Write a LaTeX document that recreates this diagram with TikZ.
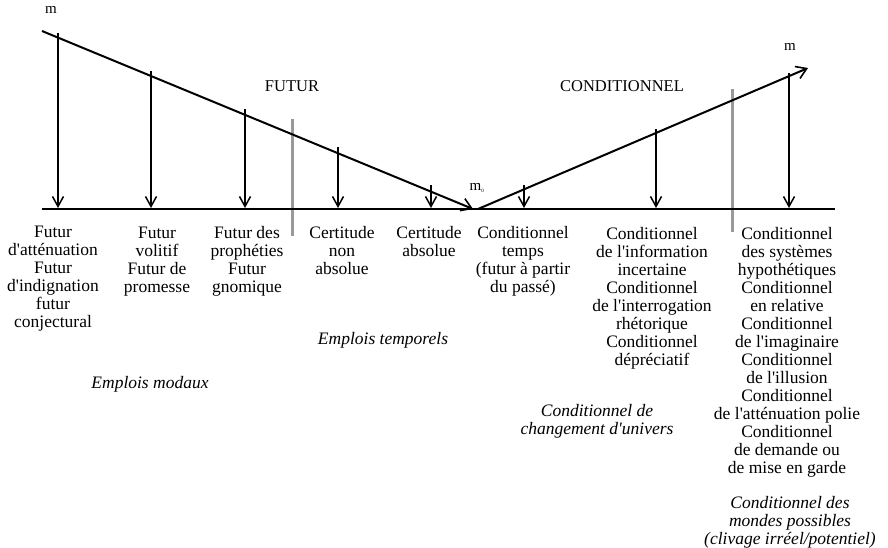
\documentclass[tikz,border=0pt]{standalone}
\usepackage{fontspec}
\setmainfont{Liberation Serif}
\usetikzlibrary{arrows.meta}
\newcommand{\ap}{\textquotesingle}
\begin{document}
\begin{tikzpicture}[x=1pt,y=-1pt,
  lbl/.style={align=center,font=\fontsize{17.5}{18}\selectfont,inner sep=0pt,anchor=north},
  cat/.style={align=center,font=\fontsize{17.5}{18}\selectfont\itshape,inner sep=0pt,anchor=north},
  head/.style={font=\fontsize{16.5}{18}\selectfont,inner sep=0pt},
  mlab/.style={font=\fontsize{15}{16}\selectfont,inner sep=0pt},
  axis/.style={line width=2.6pt},
  diag/.style={line width=2pt},
  drop/.style={line width=1.7pt,-{Straight Barb[length=10pt,width=11pt,line width=1.5pt]}},
  diagtip/.style={diag,-{Straight Barb[length=10pt,width=13pt,line width=1.6pt]}},
  sep/.style={line width=3pt,draw=gray!80}]
\useasboundingbox (0,0) rectangle (888,547);

% main coordinates
\coordinate (ax0) at (42,209);
\coordinate (ax1) at (835,209);
\coordinate (mstart) at (42,31);
\coordinate (m0L) at (473,209);
\coordinate (m0R) at (478,209);
\coordinate (mend) at (808,68);

% separators
\coordinate (s1t) at (292,119); \coordinate (s1b) at (292,236);
\coordinate (s2t) at (732,89);  \coordinate (s2b) at (732,232);
\draw[sep] (s1t) -- (s1b);
\draw[sep] (s2t) -- (s2b);

% axis and diagonals
\draw[axis] (ax0) -- (ax1);
\draw[diagtip] (mstart) -- (m0L);
\draw[diagtip] (m0R) -- (mend);

% drop arrows
\foreach \i/\x/\y in {1/58/33,2/151/71,3/245/109,4/338/147,5/431/185,6/524/185,7/656/129,8/789/73}{
  \coordinate (t\i) at (\x,\y);
  \coordinate (b\i) at (\x,208);
  \draw[drop] (t\i) -- (b\i);
}

% labels m
\node[mlab] (mA) at (51,10) {m};
\node[mlab] (mB) at (790,47) {m};
\node[mlab] (mC) at (477,188) {m\textsubscript{\tiny 0}};

% headings
\node[head] (fut) at (292,86) {FUTUR};
\node[head] (cond) at (622,86) {CONDITIONNEL};

% column texts
\node[lbl] (c1) at (53,226) {Futur\\d\ap atténuation\\Futur\\d\ap indignation\\futur\\conjectural};
\node[lbl] (c2) at (157,227) {Futur\\volitif\\Futur de\\promesse};
\node[lbl] (c3) at (247,226) {Futur des\\prophéties\\Futur\\gnomique};
\node[lbl] (c4) at (342,226) {Certitude\\non\\absolue};
\node[lbl] (c5) at (429,226) {Certitude\\absolue};
\node[lbl] (c6) at (523,226) {Conditionnel\\temps\\(futur à partir\\du passé)};
\node[lbl] (c7) at (652,227) {Conditionnel\\de l\ap information\\incertaine\\Conditionnel\\de l\ap interrogation\\rhétorique\\Conditionnel\\dépréciatif};
\node[lbl] (c8) at (787,227) {Conditionnel\\des systèmes\\hypothétiques\\Conditionnel\\en relative\\Conditionnel\\de l\ap imaginaire\\Conditionnel\\de l\ap illusion\\Conditionnel\\de l\ap atténuation polie\\Conditionnel\\de demande ou\\de mise en garde};

% category labels
\node[cat] (et) at (383,332) {Emplois temporels};
\node[cat] (em) at (150,376) {Emplois modaux};
\node[cat] (cu) at (597,404) {Conditionnel de\\changement d\ap univers};
\node[cat] (cm) at (790,496) {Conditionnel des\\mondes possibles\\(clivage irréel/potentiel)};
\end{tikzpicture}
\end{document}
